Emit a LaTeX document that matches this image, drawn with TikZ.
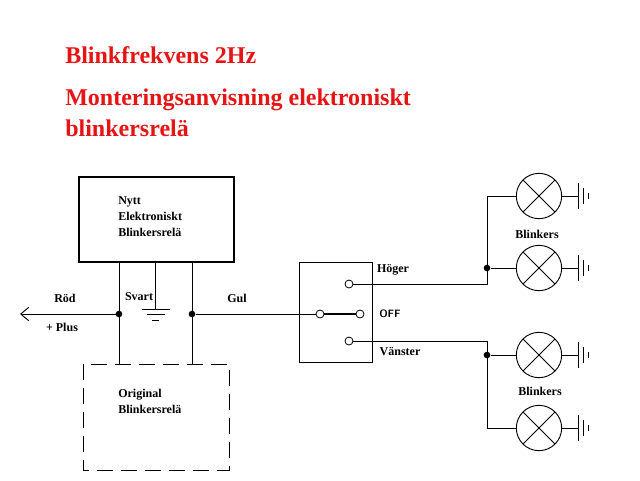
\documentclass[tikz,border=0pt]{standalone}
\usepackage{fontspec}
\setmainfont{Liberation Serif}
\usetikzlibrary{arrows.meta}
\definecolor{titlered}{RGB}{230,20,20}
\tikzset{
  wire/.style={line width=0.7pt},
  lbl/.style={font=\fontsize{9}{10}\selectfont\bfseries,inner sep=0pt},
  title/.style={font=\fontsize{18}{20}\selectfont\bfseries,text=titlered,anchor=west,inner sep=0pt},
  term/.style={circle,draw,fill=white,minimum size=6pt,inner sep=0pt,line width=0.6pt},
  junction/.style={circle,fill,minimum size=5pt,inner sep=0pt},
  lamp/.style={circle,draw,minimum size=34pt,inner sep=0pt,line width=0.7pt,
    path picture={\draw[line width=0.7pt] (path picture bounding box.south west)--(path picture bounding box.north east)
      (path picture bounding box.north west)--(path picture bounding box.south east);}}
}
\newcommand{\earthright}[1]{%
  \draw[wire] (#1.east) -- ++(16,0) coordinate (e);
  \draw[wire] (e) ++(0,-13)--++(0,26) (e) ++(5,-8)--++(0,16) (e) ++(10,-3)--++(0,6);}
\begin{document}
\begin{tikzpicture}[x=0.75pt,y=-0.75pt]
  \useasboundingbox (0,0) rectangle (640,480);
  % titles
  \node[title] (t1) at (65,55) {Blinkfrekvens 2Hz};
  \node[title] (t2) at (65,100) {Monteringsanvisning elektroniskt};
  \node[title] (t3) at (65,128) {blinkersrelä};
  % relays
  \draw[line width=2pt] (79,177) rectangle (234,262);
  \node[lbl,anchor=west,align=left] (nytt) at (118,217) {Nytt\\[2pt]Elektroniskt\\[2pt]Blinkersrelä};
  \draw[wire,dash pattern=on 12pt off 6pt] (83,364) rectangle (229,470);
  \node[lbl,anchor=west,align=left] (orig) at (118,401) {Original\\[2pt]Blinkersrelä};
  % wires at relay
  \coordinate (p) at (119,314);
  \coordinate (g) at (192,314);
  \draw[wire] (119,262) -- (119,364) (192,262) -- (192,364) (155,262) -- (155,309);
  \draw[wire] (142,309)--(170,309) (147,314)--(165,314) (152,320)--(159,320);
  \draw[wire,-{Straight Barb[length=6pt,width=10pt]}] (p) -- (20,314);
  \node[junction] (jp) at (p) {};
  \node[junction] (jg) at (g) {};
  \node[lbl] (rod) at (65,298) {Röd};
  \node[lbl] (plus) at (62,327) {+ Plus};
  \node[lbl] (svart) at (139,297) {Svart};
  \node[lbl] (gul) at (237,298) {Gul};
  % switch
  \draw[wire] (299,262) rectangle (372,362);
  \node[term] (sh) at (349,284) {};
  \node[term] (sc) at (320,314) {};
  \node[term] (so) at (360,314) {};
  \node[term] (sv) at (349,341) {};
  \draw[wire] (jg) -- (sc);
  \draw[line width=2pt] (sc) -- (so);
  \node[font=\fontsize{8}{9}\selectfont\sffamily\bfseries] (off) at (390,314) {OFF};
  % lamps
  \node[lamp] (l1) at (539,196) {};
  \node[lamp] (l2) at (539,268) {};
  \node[lamp] (l3) at (539,355) {};
  \node[lamp] (l4) at (539,428) {};
  \node[junction] (j1) at (487,268) {};
  \node[junction] (j2) at (487,355) {};
  \draw[wire] (sh) -- (487,284) -- (487,196) -- (l1);
  \draw[wire] (j1) -- (l2);
  \draw[wire] (sv) -- (487,341) -- (487,428) -- (l4);
  \draw[wire] (j2) -- (l3);
  \earthright{l1} \earthright{l2} \earthright{l3} \earthright{l4}
  \node[lbl] (hoger) at (393,270) {Höger};
  \node[lbl] (vanster) at (400,352) {Vänster};
  \node[lbl] (b1) at (537,234) {Blinkers};
  \node[lbl] (b2) at (540,391) {Blinkers};
\end{tikzpicture}
\end{document}
